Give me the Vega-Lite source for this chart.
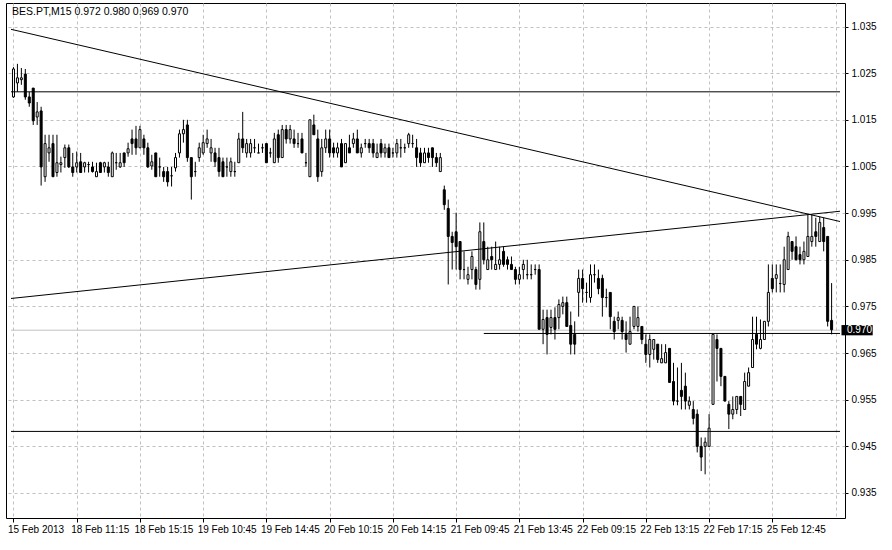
{
  "$schema": "https://vega.github.io/schema/vega-lite/v6.json",
  "width": 839,
  "height": 515,
  "autosize": "none",
  "padding": {"left": 6, "top": 3, "right": 47, "bottom": 32},
  "background": "white",
  "config": {"view": {"stroke": "black", "strokeWidth": 1}, "font": "Liberation Sans"},
  "title": {"text": "BES.PT,M15  0.972 0.980 0.969 0.970", "anchor": "start", "frame": "group", "offset": -14, "dx": 6, "fontSize": 10.5, "fontWeight": "normal", "color": "black", "font": "Liberation Sans"},
  "datasets": {
    "candles": [
{"i":0,"o":1.0199,"h":1.0263,"l":1.0197,"c":1.0259},
{"i":1,"o":1.0229,"h":1.0270,"l":1.0210,"c":1.0240},
{"i":2,"o":1.0236,"h":1.0261,"l":1.0225,"c":1.0240},
{"i":3,"o":1.0248,"h":1.0259,"l":1.0193,"c":1.0199},
{"i":4,"o":1.0199,"h":1.0210,"l":1.0178,"c":1.0186},
{"i":5,"o":1.0218,"h":1.0218,"l":1.0139,"c":1.0148},
{"i":6,"o":1.0156,"h":1.0188,"l":1.0139,"c":1.0167},
{"i":7,"o":1.0169,"h":1.0178,"l":1.0009,"c":1.0049},
{"i":8,"o":1.0028,"h":1.0118,"l":1.0017,"c":1.0099},
{"i":9,"o":1.0079,"h":1.0118,"l":1.0060,"c":1.0090},
{"i":10,"o":1.0099,"h":1.0118,"l":1.0028,"c":1.0028},
{"i":11,"o":1.0037,"h":1.0118,"l":1.0028,"c":1.0058},
{"i":12,"o":1.0054,"h":1.0071,"l":1.0037,"c":1.0058},
{"i":13,"o":1.0069,"h":1.0097,"l":1.0047,"c":1.0090},
{"i":14,"o":1.0090,"h":1.0097,"l":1.0047,"c":1.0049},
{"i":15,"o":1.0049,"h":1.0079,"l":1.0028,"c":1.0037},
{"i":16,"o":1.0049,"h":1.0082,"l":1.0037,"c":1.0058},
{"i":17,"o":1.0060,"h":1.0079,"l":1.0037,"c":1.0037},
{"i":18,"o":1.0049,"h":1.0060,"l":1.0037,"c":1.0058},
{"i":19,"o":1.0054,"h":1.0060,"l":1.0037,"c":1.0054},
{"i":20,"o":1.0049,"h":1.0060,"l":1.0037,"c":1.0039},
{"i":21,"o":1.0028,"h":1.0058,"l":1.0028,"c":1.0039},
{"i":22,"o":1.0058,"h":1.0060,"l":1.0037,"c":1.0037},
{"i":23,"o":1.0049,"h":1.0060,"l":1.0037,"c":1.0058},
{"i":24,"o":1.0049,"h":1.0060,"l":1.0028,"c":1.0037},
{"i":25,"o":1.0028,"h":1.0082,"l":1.0028,"c":1.0079},
{"i":26,"o":1.0058,"h":1.0079,"l":1.0043,"c":1.0058},
{"i":27,"o":1.0049,"h":1.0079,"l":1.0047,"c":1.0058},
{"i":28,"o":1.0079,"h":1.0079,"l":1.0049,"c":1.0058},
{"i":29,"o":1.0079,"h":1.0101,"l":1.0071,"c":1.0088},
{"i":30,"o":1.0109,"h":1.0129,"l":1.0075,"c":1.0099},
{"i":31,"o":1.0109,"h":1.0137,"l":1.0075,"c":1.0090},
{"i":32,"o":1.0090,"h":1.0137,"l":1.0090,"c":1.0129},
{"i":33,"o":1.0109,"h":1.0118,"l":1.0075,"c":1.0090},
{"i":34,"o":1.0090,"h":1.0101,"l":1.0047,"c":1.0049},
{"i":35,"o":1.0051,"h":1.0075,"l":1.0043,"c":1.0060},
{"i":36,"o":1.0079,"h":1.0079,"l":1.0028,"c":1.0028},
{"i":37,"o":1.0049,"h":1.0069,"l":1.0028,"c":1.0049},
{"i":38,"o":1.0039,"h":1.0049,"l":1.0017,"c":1.0028},
{"i":39,"o":1.0039,"h":1.0049,"l":1.0007,"c":1.0017},
{"i":40,"o":1.0030,"h":1.0049,"l":1.0007,"c":1.0030},
{"i":41,"o":1.0047,"h":1.0079,"l":1.0039,"c":1.0069},
{"i":42,"o":1.0079,"h":1.0129,"l":1.0069,"c":1.0120},
{"i":43,"o":1.0120,"h":1.0150,"l":1.0101,"c":1.0129},
{"i":44,"o":1.0139,"h":1.0150,"l":1.0060,"c":1.0069},
{"i":45,"o":1.0069,"h":1.0069,"l":0.9979,"c":1.0028},
{"i":46,"o":1.0039,"h":1.0060,"l":1.0028,"c":1.0039},
{"i":47,"o":1.0069,"h":1.0101,"l":1.0060,"c":1.0090},
{"i":48,"o":1.0079,"h":1.0118,"l":1.0075,"c":1.0101},
{"i":49,"o":1.0099,"h":1.0129,"l":1.0090,"c":1.0109},
{"i":50,"o":1.0079,"h":1.0109,"l":1.0060,"c":1.0090},
{"i":51,"o":1.0079,"h":1.0090,"l":1.0049,"c":1.0060},
{"i":52,"o":1.0069,"h":1.0090,"l":1.0028,"c":1.0039},
{"i":53,"o":1.0060,"h":1.0069,"l":1.0028,"c":1.0028},
{"i":54,"o":1.0049,"h":1.0069,"l":1.0028,"c":1.0049},
{"i":55,"o":1.0039,"h":1.0069,"l":1.0028,"c":1.0060},
{"i":56,"o":1.0039,"h":1.0060,"l":1.0028,"c":1.0039},
{"i":57,"o":1.0058,"h":1.0122,"l":1.0058,"c":1.0109},
{"i":58,"o":1.0109,"h":1.0167,"l":1.0079,"c":1.0090},
{"i":59,"o":1.0079,"h":1.0109,"l":1.0069,"c":1.0099},
{"i":60,"o":1.0079,"h":1.0109,"l":1.0069,"c":1.0099},
{"i":61,"o":1.0090,"h":1.0109,"l":1.0079,"c":1.0090},
{"i":62,"o":1.0079,"h":1.0099,"l":1.0079,"c":1.0079},
{"i":63,"o":1.0090,"h":1.0099,"l":1.0079,"c":1.0090},
{"i":64,"o":1.0099,"h":1.0099,"l":1.0058,"c":1.0058},
{"i":65,"o":1.0079,"h":1.0090,"l":1.0069,"c":1.0079},
{"i":66,"o":1.0058,"h":1.0122,"l":1.0058,"c":1.0109},
{"i":67,"o":1.0118,"h":1.0129,"l":1.0058,"c":1.0069},
{"i":68,"o":1.0069,"h":1.0139,"l":1.0069,"c":1.0129},
{"i":69,"o":1.0129,"h":1.0139,"l":1.0099,"c":1.0109},
{"i":70,"o":1.0109,"h":1.0139,"l":1.0099,"c":1.0129},
{"i":71,"o":1.0109,"h":1.0129,"l":1.0090,"c":1.0099},
{"i":72,"o":1.0099,"h":1.0122,"l":1.0090,"c":1.0099},
{"i":73,"o":1.0109,"h":1.0122,"l":1.0079,"c":1.0079},
{"i":74,"o":1.0058,"h":1.0079,"l":1.0049,"c":1.0058},
{"i":75,"o":1.0028,"h":1.0150,"l":1.0028,"c":1.0150},
{"i":76,"o":1.0139,"h":1.0161,"l":1.0118,"c":1.0118},
{"i":77,"o":1.0109,"h":1.0129,"l":1.0017,"c":1.0028},
{"i":78,"o":1.0039,"h":1.0109,"l":1.0028,"c":1.0090},
{"i":79,"o":1.0090,"h":1.0129,"l":1.0079,"c":1.0109},
{"i":80,"o":1.0109,"h":1.0129,"l":1.0069,"c":1.0079},
{"i":81,"o":1.0090,"h":1.0101,"l":1.0069,"c":1.0079},
{"i":82,"o":1.0079,"h":1.0101,"l":1.0069,"c":1.0090},
{"i":83,"o":1.0099,"h":1.0109,"l":1.0049,"c":1.0049},
{"i":84,"o":1.0058,"h":1.0099,"l":1.0058,"c":1.0099},
{"i":85,"o":1.0090,"h":1.0118,"l":1.0079,"c":1.0079},
{"i":86,"o":1.0099,"h":1.0122,"l":1.0090,"c":1.0109},
{"i":87,"o":1.0109,"h":1.0129,"l":1.0079,"c":1.0079},
{"i":88,"o":1.0079,"h":1.0099,"l":1.0069,"c":1.0090},
{"i":89,"o":1.0099,"h":1.0109,"l":1.0090,"c":1.0099},
{"i":90,"o":1.0099,"h":1.0109,"l":1.0079,"c":1.0090},
{"i":91,"o":1.0099,"h":1.0109,"l":1.0069,"c":1.0079},
{"i":92,"o":1.0069,"h":1.0099,"l":1.0069,"c":1.0079},
{"i":93,"o":1.0099,"h":1.0109,"l":1.0069,"c":1.0079},
{"i":94,"o":1.0079,"h":1.0099,"l":1.0069,"c":1.0090},
{"i":95,"o":1.0090,"h":1.0099,"l":1.0069,"c":1.0069},
{"i":96,"o":1.0079,"h":1.0090,"l":1.0069,"c":1.0079},
{"i":97,"o":1.0079,"h":1.0109,"l":1.0069,"c":1.0099},
{"i":98,"o":1.0090,"h":1.0109,"l":1.0069,"c":1.0090},
{"i":99,"o":1.0090,"h":1.0099,"l":1.0079,"c":1.0090},
{"i":100,"o":1.0099,"h":1.0122,"l":1.0090,"c":1.0118},
{"i":101,"o":1.0099,"h":1.0118,"l":1.0090,"c":1.0099},
{"i":102,"o":1.0090,"h":1.0109,"l":1.0049,"c":1.0069},
{"i":103,"o":1.0079,"h":1.0090,"l":1.0049,"c":1.0058},
{"i":104,"o":1.0058,"h":1.0090,"l":1.0058,"c":1.0079},
{"i":105,"o":1.0079,"h":1.0090,"l":1.0058,"c":1.0069},
{"i":106,"o":1.0090,"h":1.0090,"l":1.0049,"c":1.0069},
{"i":107,"o":1.0069,"h":1.0079,"l":1.0049,"c":1.0058},
{"i":108,"o":1.0039,"h":1.0079,"l":1.0039,"c":1.0069},
{"i":109,"o":1.0000,"h":1.0009,"l":0.9957,"c":0.9968},
{"i":110,"o":0.9960,"h":0.9979,"l":0.9797,"c":0.9900},
{"i":111,"o":0.9900,"h":0.9910,"l":0.9829,"c":0.9887},
{"i":112,"o":0.9910,"h":0.9951,"l":0.9829,"c":0.9878},
{"i":113,"o":0.9889,"h":0.9889,"l":0.9808,"c":0.9829},
{"i":114,"o":0.9829,"h":0.9868,"l":0.9808,"c":0.9829},
{"i":115,"o":0.9808,"h":0.9835,"l":0.9797,"c":0.9818},
{"i":116,"o":0.9829,"h":0.9868,"l":0.9808,"c":0.9857},
{"i":117,"o":0.9829,"h":0.9835,"l":0.9786,"c":0.9797},
{"i":118,"o":0.9808,"h":0.9930,"l":0.9786,"c":0.9910},
{"i":119,"o":0.9889,"h":0.9930,"l":0.9840,"c":0.9850},
{"i":120,"o":0.9829,"h":0.9878,"l":0.9829,"c":0.9850},
{"i":121,"o":0.9857,"h":0.9878,"l":0.9829,"c":0.9850},
{"i":122,"o":0.9829,"h":0.9889,"l":0.9829,"c":0.9840},
{"i":123,"o":0.9840,"h":0.9878,"l":0.9829,"c":0.9850},
{"i":124,"o":0.9868,"h":0.9878,"l":0.9835,"c":0.9840},
{"i":125,"o":0.9850,"h":0.9857,"l":0.9829,"c":0.9840},
{"i":126,"o":0.9840,"h":0.9857,"l":0.9829,"c":0.9829},
{"i":127,"o":0.9829,"h":0.9835,"l":0.9797,"c":0.9808},
{"i":128,"o":0.9808,"h":0.9835,"l":0.9797,"c":0.9818},
{"i":129,"o":0.9829,"h":0.9850,"l":0.9808,"c":0.9840},
{"i":130,"o":0.9818,"h":0.9850,"l":0.9808,"c":0.9818},
{"i":131,"o":0.9818,"h":0.9840,"l":0.9808,"c":0.9818},
{"i":132,"o":0.9829,"h":0.9840,"l":0.9818,"c":0.9829},
{"i":133,"o":0.9829,"h":0.9840,"l":0.9701,"c":0.9701},
{"i":134,"o":0.9701,"h":0.9743,"l":0.9669,"c":0.9722},
{"i":135,"o":0.9726,"h":0.9743,"l":0.9647,"c":0.9690},
{"i":136,"o":0.9705,"h":0.9743,"l":0.9690,"c":0.9726},
{"i":137,"o":0.9726,"h":0.9748,"l":0.9679,"c":0.9701},
{"i":138,"o":0.9726,"h":0.9765,"l":0.9701,"c":0.9754},
{"i":139,"o":0.9750,"h":0.9771,"l":0.9733,"c":0.9758},
{"i":140,"o":0.9758,"h":0.9771,"l":0.9707,"c":0.9707},
{"i":141,"o":0.9709,"h":0.9739,"l":0.9647,"c":0.9669},
{"i":142,"o":0.9690,"h":0.9718,"l":0.9647,"c":0.9669},
{"i":143,"o":0.9780,"h":0.9829,"l":0.9728,"c":0.9810},
{"i":144,"o":0.9810,"h":0.9829,"l":0.9758,"c":0.9788},
{"i":145,"o":0.9780,"h":0.9801,"l":0.9758,"c":0.9780},
{"i":146,"o":0.9769,"h":0.9840,"l":0.9758,"c":0.9818},
{"i":147,"o":0.9818,"h":0.9840,"l":0.9801,"c":0.9818},
{"i":148,"o":0.9810,"h":0.9829,"l":0.9776,"c":0.9788},
{"i":149,"o":0.9810,"h":0.9818,"l":0.9728,"c":0.9769},
{"i":150,"o":0.9769,"h":0.9788,"l":0.9748,"c":0.9769},
{"i":151,"o":0.9780,"h":0.9780,"l":0.9701,"c":0.9728},
{"i":152,"o":0.9718,"h":0.9728,"l":0.9679,"c":0.9696},
{"i":153,"o":0.9720,"h":0.9739,"l":0.9701,"c":0.9726},
{"i":154,"o":0.9720,"h":0.9728,"l":0.9679,"c":0.9696},
{"i":155,"o":0.9690,"h":0.9718,"l":0.9651,"c":0.9679},
{"i":156,"o":0.9669,"h":0.9728,"l":0.9669,"c":0.9696},
{"i":157,"o":0.9707,"h":0.9750,"l":0.9701,"c":0.9750},
{"i":158,"o":0.9707,"h":0.9750,"l":0.9696,"c":0.9726},
{"i":159,"o":0.9707,"h":0.9707,"l":0.9669,"c":0.9679},
{"i":160,"o":0.9669,"h":0.9690,"l":0.9629,"c":0.9647},
{"i":161,"o":0.9647,"h":0.9690,"l":0.9619,"c":0.9679},
{"i":162,"o":0.9658,"h":0.9679,"l":0.9636,"c":0.9679},
{"i":163,"o":0.9669,"h":0.9669,"l":0.9629,"c":0.9636},
{"i":164,"o":0.9629,"h":0.9669,"l":0.9629,"c":0.9638},
{"i":165,"o":0.9629,"h":0.9669,"l":0.9629,"c":0.9651},
{"i":166,"o":0.9660,"h":0.9660,"l":0.9587,"c":0.9587},
{"i":167,"o":0.9589,"h":0.9629,"l":0.9538,"c":0.9547},
{"i":168,"o":0.9547,"h":0.9619,"l":0.9538,"c":0.9547},
{"i":169,"o":0.9570,"h":0.9629,"l":0.9529,"c":0.9557},
{"i":170,"o":0.9579,"h":0.9608,"l":0.9529,"c":0.9547},
{"i":171,"o":0.9538,"h":0.9557,"l":0.9529,"c":0.9547},
{"i":172,"o":0.9529,"h":0.9547,"l":0.9497,"c":0.9510},
{"i":173,"o":0.9519,"h":0.9529,"l":0.9437,"c":0.9450},
{"i":174,"o":0.9450,"h":0.9469,"l":0.9397,"c":0.9427},
{"i":175,"o":0.9450,"h":0.9469,"l":0.9390,"c":0.9459},
{"i":176,"o":0.9450,"h":0.9519,"l":0.9450,"c":0.9489},
{"i":177,"o":0.9540,"h":0.9690,"l":0.9540,"c":0.9690},
{"i":178,"o":0.9679,"h":0.9690,"l":0.9589,"c":0.9660},
{"i":179,"o":0.9660,"h":0.9660,"l":0.9579,"c":0.9600},
{"i":180,"o":0.9600,"h":0.9600,"l":0.9547,"c":0.9547},
{"i":181,"o":0.9540,"h":0.9547,"l":0.9487,"c":0.9519},
{"i":182,"o":0.9519,"h":0.9557,"l":0.9508,"c":0.9529},
{"i":183,"o":0.9529,"h":0.9557,"l":0.9519,"c":0.9557},
{"i":184,"o":0.9557,"h":0.9557,"l":0.9515,"c":0.9540},
{"i":185,"o":0.9529,"h":0.9608,"l":0.9529,"c":0.9589},
{"i":186,"o":0.9579,"h":0.9619,"l":0.9579,"c":0.9608},
{"i":187,"o":0.9619,"h":0.9728,"l":0.9619,"c":0.9679},
{"i":188,"o":0.9690,"h":0.9728,"l":0.9658,"c":0.9669},
{"i":189,"o":0.9660,"h":0.9722,"l":0.9658,"c":0.9679},
{"i":190,"o":0.9679,"h":0.9718,"l":0.9679,"c":0.9718},
{"i":191,"o":0.9718,"h":0.9840,"l":0.9707,"c":0.9780},
{"i":192,"o":0.9810,"h":0.9840,"l":0.9780,"c":0.9788},
{"i":193,"o":0.9810,"h":0.9840,"l":0.9780,"c":0.9818},
{"i":194,"o":0.9799,"h":0.9840,"l":0.9780,"c":0.9799},
{"i":195,"o":0.9797,"h":0.9878,"l":0.9780,"c":0.9850},
{"i":196,"o":0.9829,"h":0.9910,"l":0.9829,"c":0.9900},
{"i":197,"o":0.9889,"h":0.9889,"l":0.9850,"c":0.9868},
{"i":198,"o":0.9878,"h":0.9900,"l":0.9850,"c":0.9850},
{"i":199,"o":0.9861,"h":0.9878,"l":0.9840,"c":0.9850},
{"i":200,"o":0.9850,"h":0.9889,"l":0.9840,"c":0.9868},
{"i":201,"o":0.9857,"h":0.9947,"l":0.9857,"c":0.9900},
{"i":202,"o":0.9889,"h":0.9947,"l":0.9878,"c":0.9900},
{"i":203,"o":0.9910,"h":0.9940,"l":0.9878,"c":0.9900},
{"i":204,"o":0.9889,"h":0.9942,"l":0.9889,"c":0.9930},
{"i":205,"o":0.9919,"h":0.9940,"l":0.9868,"c":0.9889},
{"i":206,"o":0.9900,"h":0.9900,"l":0.9707,"c":0.9718},
{"i":207,"o":0.9720,"h":0.9800,"l":0.9690,"c":0.9700}
    ],
    "lines": [
      {"line":"trendA","i":-0.625,"p":1.0344},{"line":"trendA","i":209.125,"p":0.9932},
      {"line":"trendB","i":-0.625,"p":0.9767},{"line":"trendB","i":209.125,"p":0.9954},
      {"line":"h1","i":-0.625,"p":1.021},{"line":"h1","i":209.125,"p":1.021},
      {"line":"h2","i":-0.625,"p":0.9482},{"line":"h2","i":209.125,"p":0.9482},
      {"line":"h3","i":119,"p":0.9692},{"line":"h3","i":209.125,"p":0.9692}
    ],
    "bid": [
      {"line":"bid","i":-0.625,"p":0.9699},{"line":"bid","i":209.125,"p":0.9699}
    ],
    "lastPrice": [
      {"label":"0.970","p":0.9699}
    ]
  },
  "layer": [
    {
      "data": {"name": "bid"},
      "mark": {"type": "line", "color": "#c0c0c0", "strokeWidth": 1, "clip": true},
      "encoding": {
        "x": {"field": "i", "type": "quantitative", "title": null,
          "scale": {"domain": [-0.625, 209.125], "nice": false, "zero": false},
          "axis": {
            "values": [0,8,16,24,32,40,48,56,64,72,80,88,96,104,112,120,128,136,144,152,160,168,176,184,192,200,208],
            "grid": true, "gridColor": "#c0c0c0", "gridDash": [3,3], "gridWidth": 1,
            "domain": false, "tickColor": "black", "tickSize": 4,
            "tickOpacity": {"condition": {"test": "datum.value % 16 !== 0 || datum.value > 200", "value": 0}, "value": 1},
            "labelExpr": "datum.value % 16 === 0 ? ['15 Feb 2013','18 Feb 11:15','18 Feb 15:15','19 Feb 10:45','19 Feb 14:45','20 Feb 10:15','20 Feb 14:15','21 Feb 09:45','21 Feb 13:45','22 Feb 09:15','22 Feb 13:15','22 Feb 17:15','25 Feb 12:45','',''][datum.value / 16] : ''",
            "labelAlign": "left", "labelPadding": 2, "labelOffset": -6, "labelFlush": false, "labelOverlap": false,
            "labelFont": "Liberation Sans", "labelFontSize": 10, "labelColor": "black", "labelBound": false
          }
        },
        "y": {"field": "p", "type": "quantitative", "title": null,
          "scale": {"domain": [0.92964, 1.04004], "nice": false, "zero": false},
          "axis": {
            "orient": "right",
            "values": [0.935,0.945,0.955,0.965,0.975,0.985,0.995,1.005,1.015,1.025,1.035],
            "format": ".3f",
            "grid": true, "gridColor": "#c0c0c0", "gridDash": [3,3], "gridWidth": 1,
            "domain": false, "tickColor": "black", "tickSize": 3, "labelPadding": 3,
            "labelFont": "Liberation Sans", "labelFontSize": 10, "labelColor": "black",
            "labelOverlap": false, "labelFlush": false, "labelBound": false
          }
        },
        "detail": {"field": "line"}
      }
    },
    {
      "data": {"name": "candles"},
      "mark": {"type": "rule", "color": "black", "strokeWidth": 1},
      "encoding": {
        "x": {"field": "i", "type": "quantitative", "title": null},
        "y": {"field": "l", "type": "quantitative", "title": null},
        "y2": {"field": "h"}
      }
    },
    {
      "data": {"name": "candles"},
      "mark": {"type": "bar", "size": 2, "stroke": "black", "strokeWidth": 1},
      "encoding": {
        "x": {"field": "i", "type": "quantitative", "title": null},
        "y": {"field": "o", "type": "quantitative", "title": null},
        "y2": {"field": "c"},
        "fill": {"condition": {"test": "datum.c > datum.o", "value": "white"}, "value": "black"}
      }
    },
    {
      "data": {"name": "lines"},
      "mark": {"type": "line", "color": "black", "strokeWidth": 1, "clip": true},
      "encoding": {
        "x": {"field": "i", "type": "quantitative", "title": null},
        "y": {"field": "p", "type": "quantitative", "title": null},
        "detail": {"field": "line"}
      }
    },
    {
      "data": {"name": "lastPrice"},
      "mark": {"type": "rect", "color": "black"},
      "encoding": {
        "x": {"datum": 209.5, "type": "quantitative"},
        "x2": {"datum": 217.4},
        "y": {"datum": 0.9710, "type": "quantitative"},
        "y2": {"datum": 0.9688}
      }
    },
    {
      "data": {"name": "lastPrice"},
      "mark": {"type": "text", "color": "white", "align": "left", "baseline": "middle", "font": "Liberation Sans", "fontSize": 10},
      "encoding": {
        "x": {"datum": 210.9, "type": "quantitative"},
        "y": {"field": "p", "type": "quantitative", "title": null},
        "text": {"field": "label"}
      }
    }
  ]
}
